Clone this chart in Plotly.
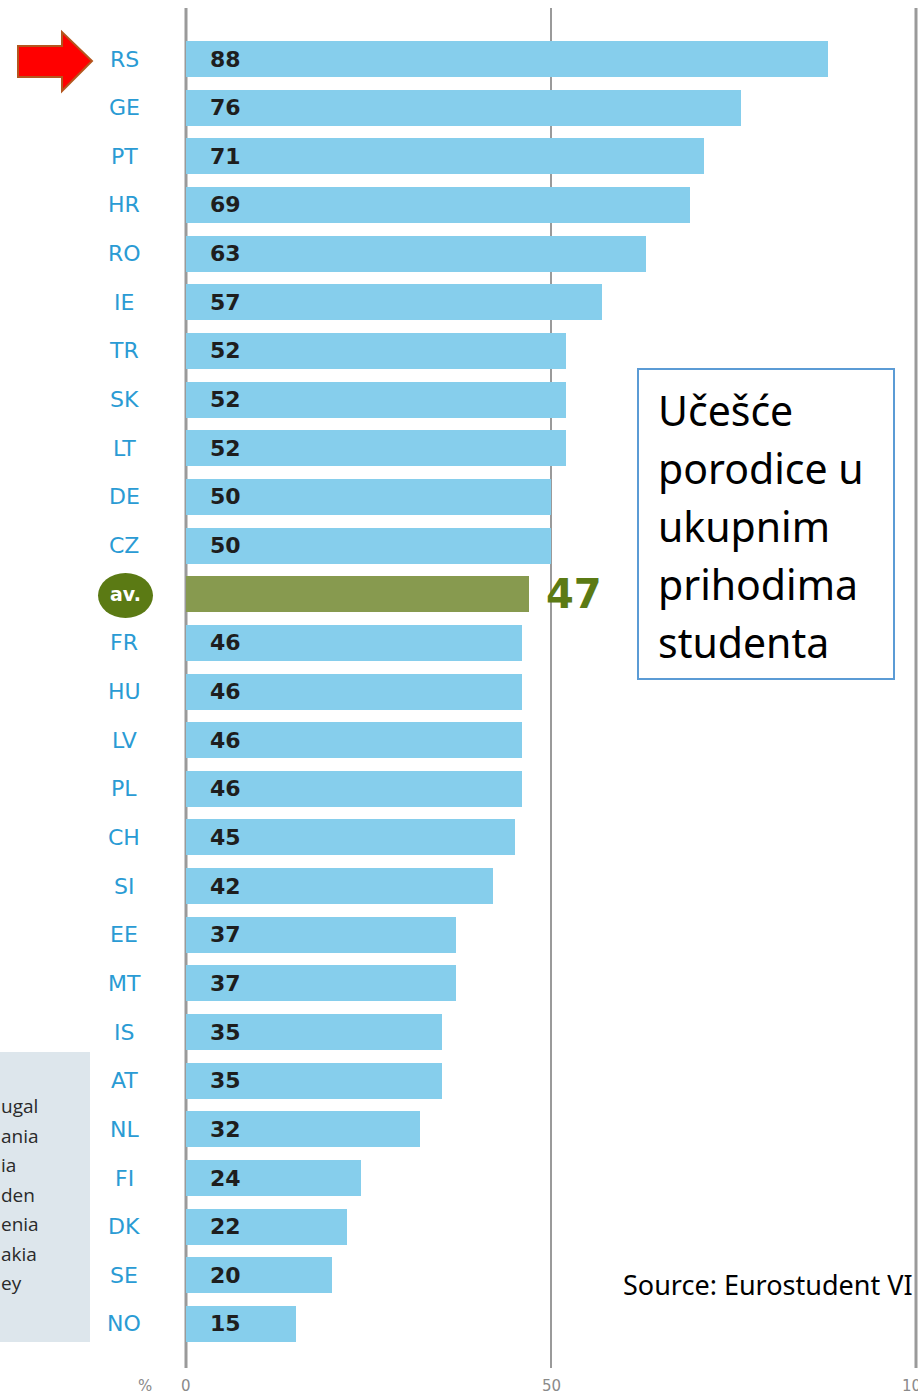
import plotly.graph_objects as go

# ---- data ----
countries = ["RS", "GE", "PT", "HR", "RO", "IE", "TR", "SK", "LT", "DE", "CZ", "av.",
             "FR", "HU", "LV", "PL", "CH", "SI", "EE", "MT", "IS", "AT", "NL", "FI",
             "DK", "SE", "NO"]
values = [88, 76, 71, 69, 63, 57, 52, 52, 52, 50, 50, 47,
          46, 46, 46, 46, 45, 42, 37, 37, 35, 35, 32, 24,
          22, 20, 15]
x_ticks = [0, 50, 100]
x_tick_labels = ["0", "50", "100"]
box_lines = ["Učešće", "porodice u", "ukupnim", "prihodima", "studenta"]
source_text = "Source: Eurostudent VI"
legend_fragments = ["ugal", "ania", "ia", "den", "enia", "akia", "ey"]

W, H = 918, 1394
BLUE = "#86CEEC"
GREEN_BAR = "#879A4F"
GREEN_DARK = "#5B7A14"
LABEL_BLUE = "#2A9BD4"
LABEL_FONT = "DejaVu Sans"


def px(x):
    return x / W


def py(y):
    return 1 - y / H


idx = list(range(len(countries)))
colors = [GREEN_BAR if c == "av." else BLUE for c in countries]

fig = go.Figure()
fig.add_trace(go.Bar(
    x=values, y=idx, orientation="h", marker=dict(color=colors, line=dict(width=0)),
    width=0.74, hoverinfo="skip", showlegend=False,
))

annotations = []
shapes = []


def ann(**kw):
    kw.setdefault("showarrow", False)
    kw.setdefault("xanchor", "center")
    kw.setdefault("yanchor", "middle")
    annotations.append(kw)


# gridlines
for t, w in zip(x_ticks, [3, 2, 3]):
    shapes.append(dict(type="line", xref="x", yref="paper", x0=t, x1=t,
                       y0=py(1368), y1=py(8), line=dict(color="#9A9A9A", width=w),
                       layer="below"))
# tick labels
for t, lab in zip(x_ticks, x_tick_labels):
    ann(x=t, xref="x", y=py(1386), yref="paper", text=lab,
        font=dict(size=15, color="#8A8A8A", family=LABEL_FONT))
ann(x=px(145), xref="paper", y=py(1386), yref="paper", text="%",
    font=dict(size=15, color="#8A8A8A", family=LABEL_FONT))

# category & value labels
for i, (c, v) in enumerate(zip(countries, values)):
    if c == "av.":
        shapes.append(dict(type="circle", xref="paper", yref="paper",
                           x0=px(98), x1=px(153), y0=py(618), y1=py(573),
                           fillcolor=GREEN_DARK, line=dict(width=0)))
        ann(x=px(125.5), xref="paper", y=i, yref="y", text="<b>av.</b>",
            font=dict(size=19, color="white", family=LABEL_FONT))
        ann(x=v, xref="x", y=i, yref="y", text=f"<b>{v}</b>", xanchor="left", xshift=15,
            font=dict(size=40, color=GREEN_DARK, family=LABEL_FONT))
    else:
        ann(x=px(124), xref="paper", y=i, yref="y", text=c,
            font=dict(size=22, color=LABEL_BLUE, family=LABEL_FONT))
        ann(x=3.0, xref="x", y=i, yref="y", text=f"<b>{v}</b>", xanchor="left",
            font=dict(size=22, color="#1E1E1E", family=LABEL_FONT))

# red arrow
pts = [(18, 46), (62, 46), (62, 32), (92, 61), (62, 91), (62, 77), (18, 77)]
path = "M " + " L ".join(f"{px(x):.5f},{py(y):.5f}" for x, y in pts) + " Z"
shapes.append(dict(type="path", xref="paper", yref="paper", path=path,
                   fillcolor="#FF0000", line=dict(color="#B4561E", width=2)))

# text box
shapes.append(dict(type="rect", xref="paper", yref="paper", x0=px(638), x1=px(894),
                   y0=py(679), y1=py(369), line=dict(color="#5B9BD5", width=2),
                   fillcolor="white"))
for k, line in enumerate(box_lines):
    yc = 410 + 58 * k
    ann(x=px(656), xref="paper", y=py(yc), yref="paper", text=line, xanchor="left",
        font=dict(size=41, color="black", family="Noto Sans"))

# source
ann(x=px(621), xref="paper", y=py(1284), yref="paper", text=source_text, xanchor="left",
    font=dict(size=27, color="black", family="Noto Sans"))

# left grey panel with cut-off legend
shapes.append(dict(type="rect", xref="paper", yref="paper", x0=px(-5), x1=px(90),
                   y0=py(1342), y1=py(1052), fillcolor="#DDE6EC", line=dict(width=0),
                   layer="below"))
for k, frag in enumerate(legend_fragments):
    yc = 1106 + 29.5 * k
    ann(x=px(-1), xref="paper", y=py(yc), yref="paper", text=frag, xanchor="left",
        font=dict(size=19, color="#2A2A2A", family="Open Sans"))

fig.update_layout(
    width=W, height=H, margin=dict(l=0, r=0, t=0, b=0),
    paper_bgcolor="white", plot_bgcolor="white",
    xaxis=dict(range=[-186 / 7.3, (W - 186) / 7.3], visible=False, fixedrange=True),
    yaxis=dict(range=[26 + (H - 1324) / 48.65, -59 / 48.65], visible=False, fixedrange=True),
    shapes=shapes, annotations=annotations, bargap=0,
)

fig.write_html("out.html", config={"displayModeBar": False},
               post_script="document.body.style.margin='0';")
